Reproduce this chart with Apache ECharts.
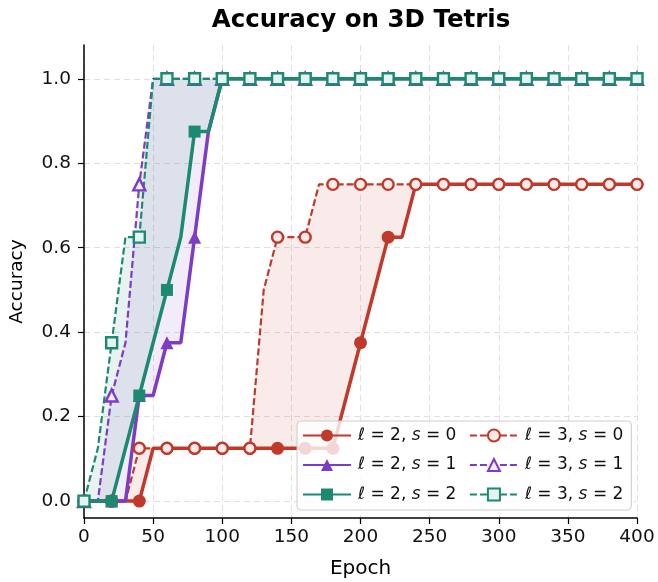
<!DOCTYPE html>
<html>
<head>
<meta charset="utf-8">
<script src="https://cdn.jsdelivr.net/npm/echarts@6/dist/echarts.min.js"></script>
<style>html,body{margin:0;padding:0;background:#fff}#chart{width:658px;height:582px}</style>
</head>
<body>
<div id="chart"></div>
<script>
// ---- data ----
const epochs = [0,10,20,30,40,50,60,70,80,90,100,110,120,130,140,150,160,170,180,190,200,210,220,230,240,250,260,270,280,290,300,310,320,330,340,350,360,370,380,390,400];
const l2s0 = [0,0,0,0,0,0.125,0.125,0.125,0.125,0.125,0.125,0.125,0.125,0.125,0.125,0.125,0.125,0.125,0.125,0.25,0.375,0.5,0.625,0.625,0.75,0.75,0.75,0.75,0.75,0.75,0.75,0.75,0.75,0.75,0.75,0.75,0.75,0.75,0.75,0.75,0.75];
const l3s0 = [0,0,0,0,0.125,0.125,0.125,0.125,0.125,0.125,0.125,0.125,0.125,0.5,0.625,0.625,0.625,0.75,0.75,0.75,0.75,0.75,0.75,0.75,0.75,0.75,0.75,0.75,0.75,0.75,0.75,0.75,0.75,0.75,0.75,0.75,0.75,0.75,0.75,0.75,0.75];
const l2s1 = [0,0,0,0,0.25,0.25,0.375,0.375,0.625,0.875,1,1,1,1,1,1,1,1,1,1,1,1,1,1,1,1,1,1,1,1,1,1,1,1,1,1,1,1,1,1,1];
const l3s1 = [0,0,0.25,0.375,0.75,1,1,1,1,1,1,1,1,1,1,1,1,1,1,1,1,1,1,1,1,1,1,1,1,1,1,1,1,1,1,1,1,1,1,1,1];
const l2s2 = [0,0,0,0.125,0.25,0.375,0.5,0.625,0.875,0.875,1,1,1,1,1,1,1,1,1,1,1,1,1,1,1,1,1,1,1,1,1,1,1,1,1,1,1,1,1,1,1];
const l3s2 = [0,0.125,0.375,0.625,0.625,1,1,1,1,1,1,1,1,1,1,1,1,1,1,1,1,1,1,1,1,1,1,1,1,1,1,1,1,1,1,1,1,1,1,1,1];
const ellValues = [2, 3];
const sValues = [0, 1, 2];
const xTicks = [0, 50, 100, 150, 200, 250, 300, 350, 400];
const yTicks = [0.0, 0.2, 0.4, 0.6, 0.8, 1.0];

// ---- styling ----
const colors = ['#c0392b', '#7d3cc4', '#1b8a71'];
const tints = ['#faebea', '#f2ebf9', '#e8f3f1'];
const fills = ['rgba(192,57,43,0.1)', 'rgba(125,60,196,0.1)', 'rgba(27,138,113,0.1)'];
const symbols = ['circle', 'triangle', 'rect'];
const solidSizes = [13, 13, 12];
const openSizes = [11, 12, 11];
const FONT = 'DejaVu Sans';

const solidData = [l2s0, l2s1, l2s2];
const dashedData = [l3s0, l3s1, l3s2];
const nameOf = (l, s) => 'ℓ = ' + l + ', s = ' + s;

function lineSeries(name, values, k, dashed) {
  const sym = symbols[k];
  return {
    type: 'line', name: name, z: 2,
    data: epochs.map((e, i) => ({ value: [e, values[i]], symbol: i % 2 === 0 ? sym : 'none' })),
    symbol: sym,
    symbolSize: dashed ? openSizes[k] : solidSizes[k],
    showAllSymbol: true,
    lineStyle: { color: colors[k], width: dashed ? 2.2 : 3.5, type: dashed ? [7, 3] : 'solid' },
    itemStyle: dashed ? { color: tints[k], borderColor: colors[k], borderWidth: 2.4 }
                      : { color: colors[k], borderColor: colors[k], borderWidth: 0 },
    emphasis: { disabled: true },
    animation: false
  };
}

function bandSeries(lower, upper, k) {
  return {
    type: 'custom', coordinateSystem: 'cartesian2d', z: 1, silent: true,
    data: [[epochs[0], lower[0]]],
    encode: { x: 0, y: 1 },
    clip: true,
    animation: false,
    renderItem: function (params, api) {
      const pts = [];
      for (let i = 0; i < epochs.length; i++) pts.push(api.coord([epochs[i], lower[i]]));
      for (let i = epochs.length - 1; i >= 0; i--) pts.push(api.coord([epochs[i], upper[i]]));
      return { type: 'polygon', shape: { points: pts }, style: { fill: fills[k] } };
    }
  };
}

const series = [];
for (let k = 0; k < 3; k++) series.push(bandSeries(solidData[k], dashedData[k], k));
for (let k = 0; k < 3; k++) {
  series.push(lineSeries(nameOf(ellValues[0], sValues[k]), solidData[k], k, false));
  series.push(lineSeries(nameOf(ellValues[1], sValues[k]), dashedData[k], k, true));
}
const legendNames = [];
ellValues.forEach(l => sValues.forEach(s => legendNames.push(nameOf(l, s))));

const chart = echarts.init(document.getElementById('chart'), null, { renderer: 'canvas' });
chart.setOption({
  backgroundColor: '#ffffff',
  animation: false,
  title: {
    text: 'Accuracy on 3D Tetris', left: 361, top: 8, textAlign: 'center', padding: 0,
    textStyle: { fontFamily: FONT, fontSize: 24.5, fontWeight: 'bold', color: '#000' }
  },
  grid: { left: 84, right: 21, top: 45, bottom: 64, containLabel: false, outerBoundsMode: 'none' },
  xAxis: {
    type: 'value', min: 0, max: 400, interval: 50,
    name: 'Epoch', nameLocation: 'middle', nameGap: 41,
    nameTextStyle: { fontFamily: FONT, fontSize: 20, color: '#000' },
    axisLine: { show: true, onZero: false, lineStyle: { color: '#000', width: 1.5 } },
    axisTick: { show: true, inside: false, length: 6, lineStyle: { color: '#000', width: 1.2 } },
    axisLabel: { margin: 10, fontFamily: FONT, fontSize: 18.5, color: '#111',
                 formatter: v => (xTicks.indexOf(v) >= 0 ? String(v) : '') },
    splitLine: { show: true, lineStyle: { color: '#e0e0e0', width: 1, type: [6, 4] } }
  },
  yAxis: {
    type: 'value', min: -0.04, max: 1.08,
    name: 'Accuracy', nameLocation: 'middle', nameGap: 57, nameRotate: 90,
    nameTextStyle: { fontFamily: FONT, fontSize: 18.5, color: '#000' },
    axisLine: { show: true, onZero: false, lineStyle: { color: '#000', width: 1.5 } },
    axisTick: { show: true, inside: false, length: 6, customValues: yTicks, lineStyle: { color: '#000', width: 1.2 } },
    axisLabel: { margin: 13, fontFamily: FONT, fontSize: 18.5, color: '#111', customValues: yTicks,
                 formatter: v => Number(v).toFixed(1) },
    splitLine: { show: true, lineStyle: { color: '#e0e0e0', width: 1, type: [6, 4] } }
  },
  legend: {
    data: legendNames,
    orient: 'vertical',
    left: 297, top: 421, height: 92,
    padding: [6, 8, 7, 5],
    itemWidth: 48, itemHeight: 15, itemGap: 12.5,
    backgroundColor: 'rgba(255,255,255,0.8)',
    borderColor: '#cccccc', borderWidth: 1, borderRadius: 4,
    selectedMode: false,
    textStyle: {
      fontFamily: FONT, fontSize: 17, color: '#111', width: 96, lineHeight: 17,
      padding: [0, 0, 0, 2],
      rich: { i: { fontFamily: FONT, fontSize: 17, fontStyle: 'italic', color: '#111' } }
    },
    formatter: name => name.replace('s =', '{i|s} =')
  },
  series: series
});
</script>
</body>
</html>
